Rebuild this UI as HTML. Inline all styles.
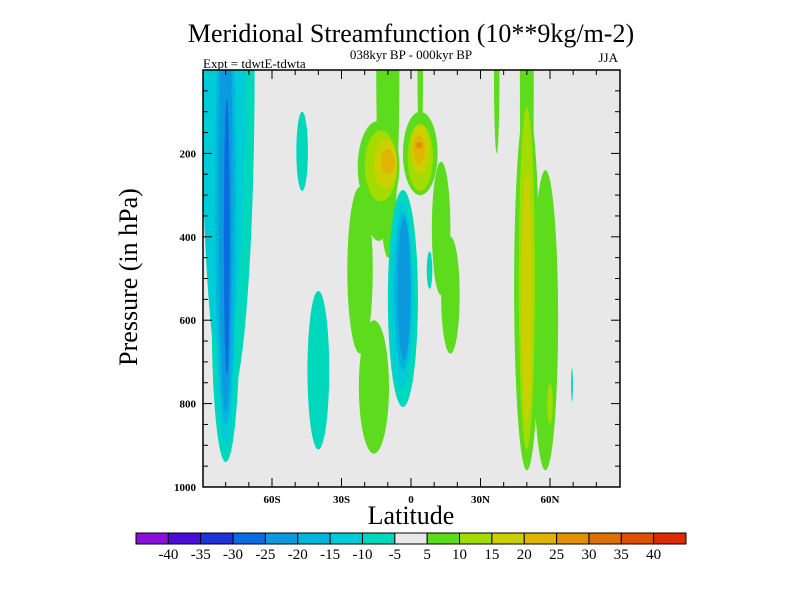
<!DOCTYPE html>
<html><head><meta charset="utf-8"><style>
body{margin:0;background:#fff;}
svg text{font-family:"Liberation Serif",serif;}
</style></head><body>
<svg id="chart" width="800" height="600" viewBox="0 0 800 600">
<defs><clipPath id="pc"><rect x="203" y="70" width="417" height="417"/></clipPath></defs>
<text x="411" y="42" font-size="26" text-anchor="middle">Meridional Streamfunction (10**9kg/m-2)</text>
<text x="411" y="59" font-size="13" text-anchor="middle">038kyr BP - 000kyr BP</text>
<text x="203" y="68" font-size="13">Expt = tdwtE-tdwta</text>
<text x="618" y="62" font-size="13" text-anchor="end">JJA</text>
<rect x="203" y="70" width="417" height="417" fill="#e8e8e8"/>
<g id="marks" clip-path="url(#pc)"></g>
<g id="axes"></g>
<rect x="203" y="70" width="417" height="417" fill="none" stroke="#000" stroke-width="1.5"/>
<text x="411" y="524" font-size="26" text-anchor="middle">Latitude</text>
<text transform="translate(137,277) rotate(-90)" font-size="26" text-anchor="middle">Pressure (in hPa)</text>
<g id="cbar"></g>
</svg>
<script>
const colors=["#8a0fdb","#4a0cd8","#1e34d8","#0a6ce0","#0c9ade","#00b6dc","#00ccd8","#00d8bc","#e8e8e8","#5cdc1c","#a2dc00","#ccd000","#e0b400","#e09000","#dc7000","#dc5000","#dc2c00"];
const cbarLabels=["-40","-35","-30","-25","-20","-15","-10","-5","5","10","15","20","25","30","35","40"];
const xTickVals=[-60,-30,0,30,60];
const xTickLabels=["60S","30S","0","30N","60N"];
const yTickVals=[200,400,600,800,1000];
// contour blobs: center latitude, center pressure, half-width (deg), half-height (hPa), color level
const blobLat =[-79,-80,-81,-80,-80,-80,-79.5,-47,-40,-10,-14,-13,-11,-10,4,4,4,3.5,3.5,4,-22,-16,-14,-3.5,-4,-3.5,-3,8,13,17,50,58,50,50,60,50,37,69.5];
const blobPres=[0,600,0,650,300,300,400,195,720,0,232,230,225,220,200,210,190,190,180,0,480,760,330,548,540,530,525,480,380,540,0,600,520,500,800,545,0,755];
const blobHL  =[11.5,6,9.5,4,4.5,3,1.3,2.5,4.7,5,9,7,5,3,7.5,5.5,4,2.5,1.5,1.2,5.5,6.5,5,6.5,5,3.7,2.8,1.2,4,4,3,5.5,5.5,3.5,1.2,2.3,1.2,0.4];
const blobHP  =[800,340,700,250,550,520,330,95,190,450,110,85,60,30,100,80,60,35,8,200,200,160,80,260,225,190,170,45,160,140,600,360,440,410,50,300,200,40];
const blobLev =[7,7,6,6,5,4,3,7,7,9,9,10,11,12,9,10,11,12,13,9,9,9,9,7,6,5,4,7,9,9,9,9,9,10,10,11,9,7];

const NS="http://www.w3.org/2000/svg";
const xS=lat=>411+lat*(417/180);
const yS=p=>70+p*(417/1000);
function mk(tag,attrs,parent){const e=document.createElementNS(NS,tag);for(const k in attrs)e.setAttribute(k,attrs[k]);parent.appendChild(e);return e;}

const marks=document.getElementById('marks');
const order=blobLat.map((_,i)=>i).sort((a,b)=>{
  const d=Math.abs(blobLev[a]-8)-Math.abs(blobLev[b]-8);
  if(d!==0)return d;
  return (blobLev[a]<8?1:0)-(blobLev[b]<8?1:0);
});
order.forEach(i=>{
  const cx=xS(blobLat[i]),cy=yS(blobPres[i]);
  const rx=xS(blobLat[i]+blobHL[i])-cx, ry=yS(blobPres[i]+blobHP[i])-cy;
  const e=mk('ellipse',{cx:cx,cy:cy,rx:rx,ry:ry,fill:colors[blobLev[i]]},marks);
  
  
});

const axes=document.getElementById('axes');
for(let lat=-80;lat<=80;lat+=10){
  const x=xS(lat),len=(lat%30===0)?9:5;
  mk('line',{x1:x,x2:x,y1:487,y2:487-len,stroke:'#000','stroke-width':1},axes);
  mk('line',{x1:x,x2:x,y1:70,y2:70+len,stroke:'#000','stroke-width':1},axes);
}
xTickVals.forEach((v,i)=>{
  const t=mk('text',{x:xS(v),y:503,'font-size':11,'font-weight':'bold','text-anchor':'middle'},axes);
  t.textContent=xTickLabels[i];
  
  
});
for(let p=50;p<1000;p+=50){
  const y=yS(p),len=(p%200===0)?9:5;
  mk('line',{x1:203,x2:203+len,y1:y,y2:y,stroke:'#000','stroke-width':1},axes);
  mk('line',{x1:620,x2:620-len,y1:y,y2:y,stroke:'#000','stroke-width':1},axes);
}
yTickVals.forEach(v=>{
  const t=mk('text',{x:196,y:yS(v)+4,'font-size':11,'font-weight':'bold','text-anchor':'end'},axes);
  t.textContent=String(v);
  
  
});

const cb=document.getElementById('cbar');
const bw=550/colors.length;
colors.forEach((c,i)=>{
  const r=mk('rect',{x:136+i*bw,y:533,width:bw,height:11,fill:c,stroke:'#000','stroke-width':1},cb);
  
  
});
cbarLabels.forEach((l,i)=>{
  const t=mk('text',{x:136+(i+1)*bw,y:559,'font-size':15,'text-anchor':'middle'},cb);
  t.textContent=l;
  
  
});
</script>
</body></html>
